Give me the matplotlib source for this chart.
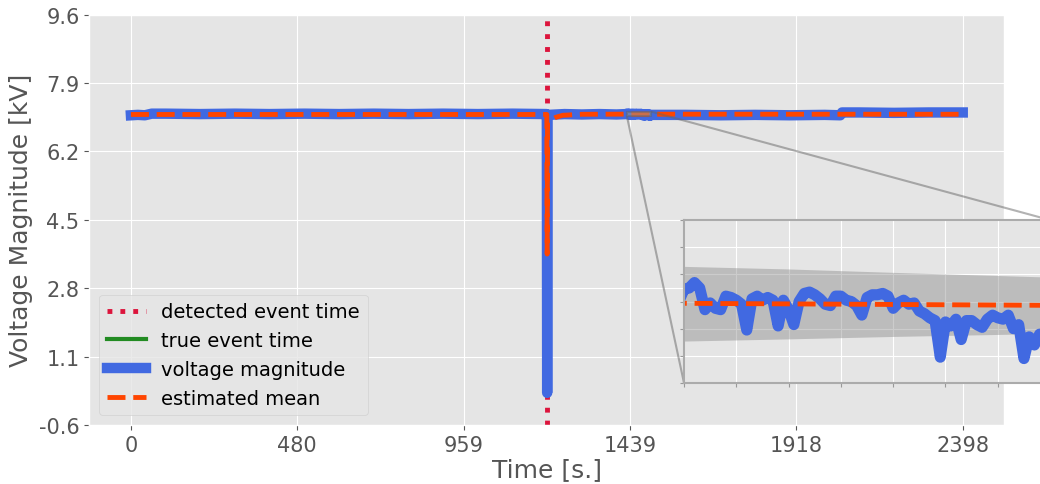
import matplotlib
matplotlib.use('Agg')
import matplotlib.pyplot as plt
from mpl_toolkits.axes_grid1.inset_locator import mark_inset
import numpy as np

plt.style.use('ggplot')

# 检测到的事件时间 (s)
event_t = 1199

# 电压幅值 (kV), 粗略采样 + 放大区域内逐秒数据
volt_t = [0, 20, 40, 60, 100, 200, 300, 400, 500, 600, 700, 800, 900, 1000,
          1100, 1198, 1199, 1200, 1201, 1205, 1250, 1300, 1350, 1400, 1429,
          1430, 1431, 1432, 1433, 1434, 1435, 1436, 1437, 1438, 1439,
          1440, 1441, 1442, 1443, 1444, 1445, 1446, 1447, 1448, 1449,
          1450, 1451, 1452, 1453, 1454, 1455, 1456, 1457, 1458, 1459,
          1460, 1461, 1462, 1463, 1464, 1465, 1466, 1467, 1468, 1469,
          1470, 1471, 1472, 1473, 1474, 1475, 1476, 1477, 1478, 1479,
          1480, 1481, 1482, 1483, 1484, 1485, 1486, 1487, 1488, 1489,
          1490, 1491, 1492, 1493, 1494, 1495, 1496, 1497, 1498,
          1499, 1500, 1600, 1700, 1800, 1900, 2000, 2045, 2050, 2100,
          2200, 2300, 2398]
volt_v = [7.10, 7.11, 7.10, 7.14, 7.14, 7.13, 7.14, 7.13, 7.14, 7.13, 7.14,
          7.13, 7.14, 7.13, 7.14, 7.13, 7.10, 0.20, 7.05, 7.11, 7.13, 7.12,
          7.13, 7.12, 7.13,
          7.139, 7.140, 7.144, 7.140, 7.124, 7.129, 7.125, 7.124, 7.134, 7.133,
          7.131, 7.128, 7.109, 7.132, 7.134, 7.131, 7.133, 7.131, 7.112, 7.131,
          7.124, 7.113, 7.130, 7.136, 7.137, 7.135, 7.132, 7.128, 7.127, 7.134,
          7.134, 7.131, 7.130, 7.127, 7.120, 7.133, 7.135, 7.135, 7.136, 7.134,
          7.125, 7.129, 7.131, 7.128, 7.129, 7.123, 7.121, 7.118, 7.116, 7.089,
          7.115, 7.112, 7.117, 7.102, 7.116, 7.116, 7.113, 7.111, 7.117, 7.120,
          7.118, 7.117, 7.120, 7.110, 7.113, 7.088, 7.104, 7.098, 7.106,
          7.10, 7.11, 7.11, 7.10, 7.11, 7.10, 7.11, 7.10, 7.17, 7.17,
          7.16, 7.17, 7.17]

# 估计均值 (kV)
mean_t = [0, 1199, 1200, 1201, 1210, 1225, 1245, 1300, 1430, 1500, 2398]
mean_v = [7.12, 7.12, 3.65, 6.93, 6.98, 7.05, 7.10, 7.125, 7.1287, 7.1272, 7.125]

# 放大区域中的置信带
band_t = [1430, 1450, 1470, 1500]
band_lo = [7.1009, 7.1025, 7.1043, 7.1065]
band_hi = [7.1559, 7.1540, 7.1515, 7.1480]

xtick_labels = ['0', '480', '959', '1439', '1918', '2398']
ytick_labels = ['-0.6', '1.1', '2.8', '4.5', '6.2', '7.9', '9.6']

fig = plt.figure(figsize=(10.4, 4.85), dpi=100)
ax = fig.add_axes([0.0859, 0.1216, 0.8798, 0.846])

ax.axvline(event_t, color='crimson', ls=':', lw=3.5, label='detected event time')
ax.plot([], [], color='forestgreen', lw=3, label='true event time')
ax.plot(volt_t, volt_v, color='royalblue', lw=7.5, label='voltage magnitude')
ax.plot(mean_t, mean_v, color='orangered', ls='--', lw=3.5, label='estimated mean')

ax.set_ylim(-0.6, 9.6)
ax.set_xticks(np.linspace(0, 2398, 6))
ax.set_xticklabels(xtick_labels)
ax.set_yticks(np.linspace(-0.6, 9.6, 7))
ax.set_yticklabels(ytick_labels)
ax.tick_params(labelsize=15)
ax.set_xlabel('Time [s.]', fontsize=18, labelpad=2)
ax.set_ylabel('Voltage Magnitude [kV]', fontsize=18)
ax.legend(loc='lower left', fontsize=14)

# 放大图
axins = fig.add_axes([0.6577, 0.2082, 0.352, 0.336])
axins.fill_between(band_t, band_lo, band_hi, color='gray', alpha=0.4, lw=0)
axins.plot(volt_t, volt_v, color='royalblue', lw=8)
axins.plot(mean_t, mean_v, color='orangered', ls='--', lw=3.5)
axins.set_xlim(1430, 1500)
axins.set_ylim(7.07, 7.19)
axins.set_xticks(np.arange(1430, 1501, 10))
axins.set_yticks(np.linspace(7.07, 7.19, 7))
axins.set_xticklabels([])
axins.set_yticklabels([])
for sp in axins.spines.values():
    sp.set_visible(True)
    sp.set_color('0.67')
    sp.set_linewidth(1.5)
axins.tick_params(colors='0.6', length=3)

pp, p1, p2 = mark_inset(ax, axins, loc1=1, loc2=3, fc='0.6', ec='0.4', alpha=0.5, lw=1.5)
pp.set_zorder(5)

plt.savefig('out.png')
